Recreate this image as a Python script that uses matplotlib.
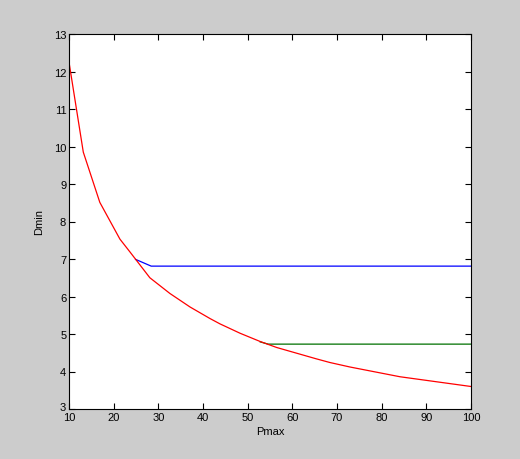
import matplotlib
matplotlib.use("Agg")
import matplotlib.pyplot as plt
import matplotlib.transforms as mtransforms

# Red curve: Dmin vs Pmax
pmax = [10, 13.2, 16.9, 21.4, 23.7, 28.1, 32.6, 37.1, 41.6, 43.8, 48.3, 52.8, 56.5, 65.3, 68.4, 72.9, 84.1, 100]
dmin = [12.25, 9.85, 8.51, 7.53, 7.18, 6.5, 6.08, 5.72, 5.41, 5.27, 5.02, 4.8, 4.64, 4.34, 4.24, 4.12, 3.86, 3.6]

# Blue branch
blue_x = [24.9, 28.4, 100]
blue_y = [6.99, 6.81, 6.81]

# Green branch
green_x = [52.8, 54.6, 100]
green_y = [4.79, 4.73, 4.73]

xticks = [10, 20, 30, 40, 50, 60, 70, 80, 90, 100]
yticks = [3, 4, 5, 6, 7, 8, 9, 10, 11, 12, 13]

plt.rcParams['font.family'] = ['Liberation Sans', 'DejaVu Sans']

fig = plt.figure(figsize=(5.2, 4.6), dpi=100, facecolor='#cccccc')
ax = fig.add_axes([69/520, 50/460, 402/520, 375/460])
ax.set_facecolor('white')

ax.plot(blue_x, blue_y, color='#0000ff', lw=0.9)
ax.plot(green_x, green_y, color='#007000', lw=0.9)
ax.plot(pmax, dmin, color='#ff0000', lw=0.9)

ax.set_xlim(10, 100)
ax.set_ylim(3, 13)
ax.set_xticks(xticks)
ax.set_yticks(yticks)
ax.tick_params(direction='in', top=True, right=True, length=4, width=0.8,
               labelsize=8, pad=2)
for s in ax.spines.values():
    s.set_linewidth(0.8)
ax.set_xlabel('Pmax', fontsize=8, labelpad=3)
ax.set_ylabel('Dmin', fontsize=8, labelpad=7)

# nudge the bottom y tick label up slightly so it clears the "10" below it
fig.canvas.draw()
lab3 = ax.get_yticklabels()[0]
lab3.set_transform(lab3.get_transform() + mtransforms.ScaledTranslation(0, 3/100, fig.dpi_scale_trans))

fig.savefig('out.png', dpi=100, facecolor=fig.get_facecolor())
